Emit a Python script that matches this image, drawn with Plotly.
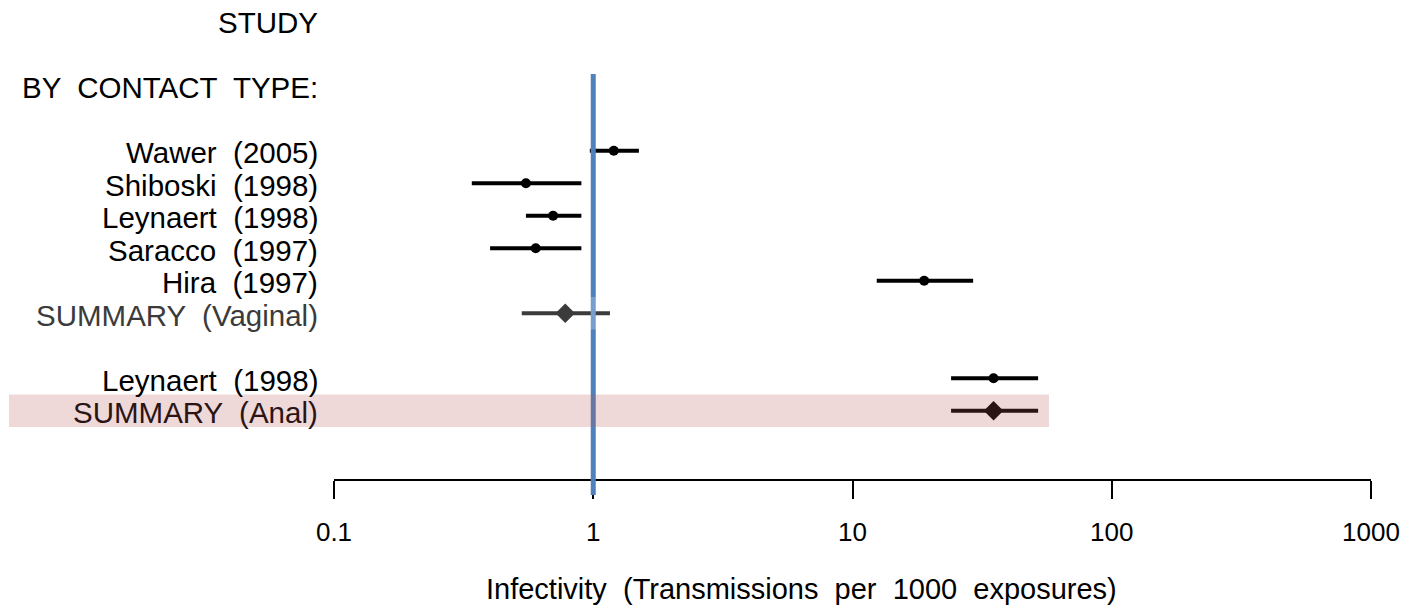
import plotly.graph_objects as go

# ---- data ----
study_labels = ["Wawer  (2005)", "Shiboski  (1998)", "Leynaert  (1998)", "Saracco  (1997)", "Hira  (1997)"]
study_rows = [4, 5, 6, 7, 8]
study_est = [1.2, 0.55, 0.70, 0.60, 18.9]
study_lo = [0.97, 0.34, 0.55, 0.40, 12.4]
study_hi = [1.5, 0.90, 0.90, 0.90, 29.2]

anal_labels = ["Leynaert  (1998)"]
anal_rows = [11]
anal_est = [35.0]
anal_lo = [24.0]
anal_hi = [52.0]

sum_labels = ["SUMMARY  (Vaginal)", "SUMMARY  (Anal)"]
sum_rows = [9, 12]
sum_est = [0.78, 35.0]
sum_lo = [0.53, 24.0]
sum_hi = [1.16, 52.0]

header_labels = ["STUDY", "BY  CONTACT  TYPE:"]
header_rows = [0, 2]

tick_vals = [0.1, 1, 10, 100, 1000]
tick_text = ["0.1", "1", "10", "100", "1000"]
x_title = "Infectivity  (Transmissions  per  1000  exposures)"

# ---- layout geometry ----
W, H = 1414, 607
ML, MR, MT, MB = 334, 43, 0, 128
PW = W - ML - MR
PH = H - MT - MB
ROW0, ROWH = 20.7, 32.5


def px_to_paper_x(px):
    return (px - ML) / PW


def px_to_paper_y(py):
    return (H - MB - py) / PH


y_top = (MT - ROW0) / ROWH
y_bot = (H - MB - ROW0) / ROWH

FONT = "Liberation Sans, Arial, Helvetica, sans-serif"

fig = go.Figure()

all_rows = study_rows + anal_rows
all_est = study_est + anal_est
all_lo = study_lo + anal_lo
all_hi = study_hi + anal_hi

fig.add_trace(go.Scatter(
    x=all_est, y=all_rows, mode="markers",
    marker=dict(symbol="circle", size=10, color="black"),
    error_x=dict(type="data", symmetric=False,
                 array=[h - e for h, e in zip(all_hi, all_est)],
                 arrayminus=[e - l for e, l in zip(all_est, all_lo)],
                 thickness=4, width=0, color="black"),
    hoverinfo="skip", showlegend=False,
))

fig.add_trace(go.Scatter(
    x=sum_est, y=sum_rows, mode="markers",
    marker=dict(symbol="diamond", size=15, color="black"),
    error_x=dict(type="data", symmetric=False,
                 array=[h - e for h, e in zip(sum_hi, sum_est)],
                 arrayminus=[e - l for e, l in zip(sum_est, sum_lo)],
                 thickness=4, width=0, color="black"),
    hoverinfo="skip", showlegend=False,
))

shapes = [
    # reference line at 1
    dict(type="line", xref="x", yref="paper", x0=1, x1=1,
         y0=px_to_paper_y(495), y1=px_to_paper_y(74),
         line=dict(color="#4F81BD", width=5), layer="above"),
    # white veil over vaginal summary row
    dict(type="rect", xref="paper", yref="y",
         x0=px_to_paper_x(9), x1=px_to_paper_x(1049),
         y0=sum_rows[0] - 0.5, y1=sum_rows[0] + 0.5,
         fillcolor="rgba(255,255,255,0.23)", line=dict(width=0), layer="above"),
    # pink highlight over anal summary row
    dict(type="rect", xref="paper", yref="y",
         x0=px_to_paper_x(9), x1=px_to_paper_x(1049),
         y0=sum_rows[1] - 0.5, y1=sum_rows[1] + 0.5,
         fillcolor="rgba(186,87,87,0.23)", line=dict(width=0), layer="above"),
]

annotations = []
LABEL_X = px_to_paper_x(320)
LABEL_SIZE = 29.5
LABEL_SHIFT = -2
for lab, r in zip(header_labels, header_rows):
    annotations.append(dict(text=lab, x=LABEL_X, y=r, xref="paper", yref="y",
                            xanchor="right", yanchor="middle", showarrow=False,
                            yshift=LABEL_SHIFT,
                            font=dict(family=FONT, size=LABEL_SIZE, color="black")))
for lab, r in zip(study_labels + anal_labels, study_rows + anal_rows):
    annotations.append(dict(text=lab, x=LABEL_X, y=r, xref="paper", yref="y",
                            xanchor="right", yanchor="middle", showarrow=False,
                            yshift=LABEL_SHIFT,
                            font=dict(family=FONT, size=LABEL_SIZE, color="black")))
sum_colors = ["#3b3b3b", "#2b1414"]
for lab, r, c in zip(sum_labels, sum_rows, sum_colors):
    annotations.append(dict(text=lab, x=LABEL_X, y=r, xref="paper", yref="y",
                            xanchor="right", yanchor="middle", showarrow=False,
                            yshift=LABEL_SHIFT,
                            font=dict(family=FONT, size=LABEL_SIZE, color=c)))

annotations.append(dict(text=x_title, x=px_to_paper_x(801), y=px_to_paper_y(589),
                        xref="paper", yref="paper", xanchor="center", yanchor="middle",
                        showarrow=False,
                        font=dict(family=FONT, size=29, color="black")))

fig.update_layout(
    width=W, height=H,
    margin=dict(l=ML, r=MR, t=MT, b=MB, pad=0),
    paper_bgcolor="white", plot_bgcolor="white",
    shapes=shapes, annotations=annotations,
    xaxis=dict(type="log", range=[-1, 3], tickmode="array",
               tickvals=tick_vals, ticktext=tick_text,
               ticks="outside", ticklen=18, tickwidth=2, tickcolor="black",
               showline=True, linewidth=2, linecolor="black",
               showgrid=False, zeroline=False,
               tickfont=dict(family=FONT, size=26, color="black"),
               ticklabelstandoff=11, fixedrange=True),
    yaxis=dict(range=[y_bot, y_top], visible=False, showgrid=False,
               zeroline=False, fixedrange=True),
)

fig.write_html("out.html", config={"displayModeBar": False},
               post_script="document.body.style.margin='0';document.body.style.padding='0';")
